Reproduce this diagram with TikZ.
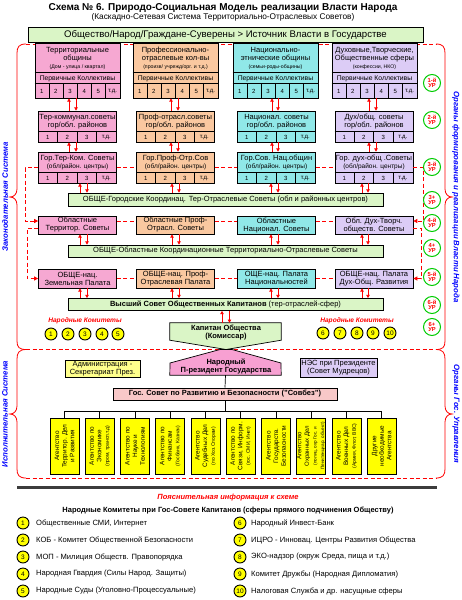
\documentclass[tikz,border=0pt]{standalone}
\usepackage{fontspec}
\setmainfont{Liberation Sans}
\usetikzlibrary{calc,arrows.meta}
\definecolor{cpink}{HTML}{F6A8D2}
\definecolor{corange}{HTML}{FAC8A0}
\definecolor{ccyan}{HTML}{90E8E8}
\definecolor{clav}{HTML}{DCCCF6}
\definecolor{cgreen}{HTML}{DAF5C6}
\definecolor{cyel}{HTML}{FFFF00}
\definecolor{cyellt}{HTML}{FFFF8C}
\definecolor{cgs}{HTML}{F8C8C8}
\definecolor{cpres}{HTML}{F7A0D2}
\definecolor{cred}{HTML}{FF0000}
\definecolor{cblue}{HTML}{0000FF}
\definecolor{clvl}{HTML}{00CC00}
\definecolor{csep}{HTML}{3C3C3C}
\newcommand{\FsT}{\fontsize{10}{11}\selectfont\bfseries}
\newcommand{\FsS}{\fontsize{8.3}{9}\selectfont}
\newcommand{\FsG}{\fontsize{9.6}{10}\selectfont}
\newcommand{\FsB}{\fontsize{7.5}{8}\selectfont}
\newcommand{\FsSm}{\fontsize{5.2}{6}\selectfont}
\newcommand{\FsC}{\fontsize{6.8}{7}\selectfont}
\newcommand{\FsD}{\fontsize{6}{6}\selectfont}
\newcommand{\FsAg}{\fontsize{6.4}{7.6}\selectfont}
\newcommand{\FsAgS}{\fontsize{5}{6}\selectfont}
\newcommand{\FsL}{\fontsize{7.6}{8}\selectfont}
\newcommand{\FsLv}{\fontsize{5.8}{5.6}\selectfont\bfseries}
\newcommand{\FsSide}{\fontsize{7.8}{8}\selectfont\bfseries\itshape}
\tikzset{
 bx/.style={draw=black, line width=0.7pt, inner sep=0pt, align=center},
 rarr/.style={draw=cred, line width=0.7pt, -{Triangle[length=3.2pt,width=3.4pt]}},
 rdash/.style={draw=cred, line width=0.8pt, dash pattern=on 4pt off 2.5pt},
 rdarr/.style={rdash, -{Triangle[length=4pt,width=4pt]}},
 lvl/.style={circle, draw=clvl, line width=1pt, fill=white, minimum size=17pt, inner sep=0pt, font=\FsLv, text=cred, align=center},
 knum/.style={circle, draw=black, line width=0.9pt, fill=cyel, minimum size=12pt, inner sep=0pt, font=\fontsize{6.5}{6.5}\selectfont},
 brc/.style={draw=cred, line width=0.8pt},
 side/.style={font=\FsSide, text=cblue, inner sep=0pt},
 agbox/.style={bx, fill=cyel, minimum width=29pt, minimum height=56pt},
 agtxt/.style={rotate=90, font=\FsAg, align=center, inner sep=0pt},
 kom/.style={font=\fontsize{6.6}{7}\selectfont\bfseries\itshape, text=cred, inner sep=0pt},
 leg/.style={anchor=west, font=\FsL, inner sep=0pt}
}
\newcommand{\TopBox}[4]{%
 \node[bx, fill=#3, minimum width=85pt, minimum height=55pt] (#1) at (#2,70.5) {};
 \node[align=center, font=\FsB, inner sep=0pt] (#1t) at (#2,58.5) {#4};
 \draw[line width=0.6pt] ($(#1.north west)+(0,30)$) -- ($(#1.north east)+(0,30)$);
 \draw[line width=0.6pt] ($(#1.north west)+(0,41)$) -- ($(#1.north east)+(0,41)$);
 \node[font=\FsC, inner sep=0pt] (#1p) at (#2,78.5) {Первичные Коллективы};
 \foreach \k in {1,...,5} {\draw[line width=0.6pt] ($(#1.north west)+({85/6*\k},41)$) -- ($(#1.south west)+({85/6*\k},0)$);}
 \foreach \k/\lab in {0/1,1/2,2/3,3/4,4/5,5/т.д.} {\node[font=\FsD, inner sep=0pt] (#1n\k) at ($(#1.south west)+({85/6*(\k+0.5)},-6.5)$) {\lab};}
}
\newcommand{\MidBox}[5]{%
 \node[bx, fill=#4, minimum width=78pt, minimum height=31pt] (#1) at (#2,{#3+15.5}) {};
 \node[align=center, font=\FsB, inner sep=0pt] (#1t) at (#2,{#3+10.5}) {#5};
 \draw[line width=0.6pt] ($(#1.north west)+(0,21)$) -- ($(#1.north east)+(0,21)$);
 \foreach \k in {1,2,3} {\draw[line width=0.6pt] ($(#1.north west)+({19.5*\k},21)$) -- ($(#1.south west)+({19.5*\k},0)$);}
 \foreach \k/\lab in {0/1,1/2,2/3,3/т.д.} {\node[font=\FsD, inner sep=0pt] (#1n\k) at ($(#1.south west)+({19.5*(\k+0.5)},-5)$) {\lab};}
}
\newcommand{\UD}[4]{%
 \draw[rarr] (#2.north -| #3,0) -- (#1.south -| #3,0);
 \draw[rarr] (#1.south -| #4,0) -- (#2.north -| #4,0);
}
\begin{document}
\begin{tikzpicture}[x=1pt,y=-1pt]
\useasboundingbox (0,0) rectangle (461,600);
\fill[white] (0,0) rectangle (461,600);
% title
\node[font=\FsT, inner sep=0pt] (title) at (223,8) {Схема № 6. Природо-Социальная Модель реализации Власти Народа};
\node[font=\FsS, inner sep=0pt] (subtitle) at (223,17.5) {(Каскадно-Сетевая Система Территориально-Отраслевых Советов)};
\node[bx, fill=cgreen, minimum width=395pt, minimum height=15pt, font=\FsG] (soc) at (225.5,34.5) {Общество/Народ/Граждане-Суверены > Источник Власти в Государстве};
% region borders
\draw[rdash] (26,44) -- (436,44);
\draw[rdash] (26,349.5) -- (436,349.5);
\draw[rdash] (26,478) -- (436,478);
\draw[brc] (26,44) .. controls (19,44) and (17,47) .. (17,53) -- (17,189) .. controls (17,194) and (14,197) .. (10,197) .. controls (14,197) and (17,200) .. (17,205) -- (17,341) .. controls (17,347) and (19,349.5) .. (26,349.5);
\draw[brc] (26,349.5) .. controls (19,349.5) and (17,353) .. (17,359) -- (17,406) .. controls (17,411) and (14,414) .. (10,414) .. controls (14,414) and (17,417) .. (17,422) -- (17,469) .. controls (17,475) and (19,478) .. (26,478);
\draw[brc] (436,44) .. controls (443,44) and (445,47) .. (445,53) -- (445,189) .. controls (445,194) and (448,197) .. (452,197) .. controls (448,197) and (445,200) .. (445,205) -- (445,341) .. controls (445,347) and (443,349.5) .. (436,349.5);
\draw[brc] (436,349.5) .. controls (443,349.5) and (445,353) .. (445,359) -- (445,406) .. controls (445,411) and (448,414) .. (452,414) .. controls (448,414) and (445,417) .. (445,422) -- (445,469) .. controls (445,475) and (443,478) .. (436,478);
\node[side, rotate=90] (legis) at (5,197) {Законодательная Система};
\node[side, rotate=90] (exec) at (5,414) {Исполнительная Система};
\node[side, rotate=-90] (orgf) at (456,197) {Органы формирования и реализации Власти Народа};
\node[side, rotate=-90] (orgg) at (456,414) {Органы Гос. Управления};
% row 1
\TopBox{t1}{77.5}{cpink}{Территориальные\\общины\\{\FsSm (Дом - улица / квартал)}}
\TopBox{t2}{175.5}{corange}{Профессионально-\\отраслевые кол-вы\\{\FsSm (произв/ учрежд/орг. и т.д.)}}
\TopBox{t3}{275.5}{ccyan}{Национально-\\этнические общины\\{\FsSm (семьи-роды-общины)}}
\TopBox{t4}{374.5}{clav}{Духовные,Творческие,\\Общественные сферы\\{\FsSm (конфессии, НКО)}}
% row 2
\MidBox{m1}{77.5}{111}{cpink}{Тер-коммунал.советы\\гор/обл. районов}
\MidBox{m2}{175.5}{111}{corange}{Проф-отрасл.советы\\гор/обл. районов}
\MidBox{m3}{276.5}{111}{ccyan}{Национал. советы\\гор/обл. районов}
\MidBox{m4}{374}{111}{clav}{Дух/общ. советы\\гор/обл. районов}
% row 3
\MidBox{g1}{77.5}{152}{cpink}{Гор.Тер-Ком. Советы\\{\fontsize{6.5}{7}\selectfont (обл/район. центры)}}
\MidBox{g2}{175.5}{152}{corange}{Гор.Проф-Отр.Сов\\{\fontsize{6.5}{7}\selectfont (обл/район. центры)}}
\MidBox{g3}{276.5}{152}{ccyan}{Гор.Сов. Нац.общин\\{\fontsize{6.5}{7}\selectfont (обл/район. центры)}}
\MidBox{g4}{374}{152}{clav}{Гор. дух-общ .Советы\\{\fontsize{6.5}{7}\selectfont (обл/район. центры)}}
% bars
\node[bx, fill=cgreen, minimum width=315pt, minimum height=13pt, font=\FsB] (b1) at (225.5,199.5) {ОБЩЕ-Городские Координац. Тер-Отраслевые Советы (обл и районных центров)};
\node[bx, fill=cgreen, minimum width=315pt, minimum height=12pt, font=\FsB] (b2) at (225.5,251) {ОБЩЕ-Областные Координационные Территориально-Отраслевые Советы};
\node[bx, fill=cgreen, minimum width=315pt, minimum height=12pt, font=\FsB] (b3) at (225.5,304.5) {\textbf{Высший Совет Общественных Капитанов} (тер-отраслей-сфер)};
% row 4
\node[bx, fill=cpink, minimum width=78pt, minimum height=18pt, font=\FsB] (o1) at (77.5,225) {Областные\\Территор. Советы};
\node[bx, fill=corange, minimum width=78pt, minimum height=18pt, font=\FsB] (o2) at (175.5,225) {Областные Проф-\\Отрасл. Советы};
\node[bx, fill=ccyan, minimum width=78pt, minimum height=18pt, font=\FsB] (o3) at (276.5,225) {Областные\\Национал. Советы};
\node[bx, fill=clav, minimum width=78pt, minimum height=18pt, font=\FsB] (o4) at (374,225) {Обл. Дух-Творч.\\обществ. Советы};
% row 5
\node[bx, fill=cpink, minimum width=78pt, minimum height=19pt, font=\FsB] (p1) at (77.5,278.5) {ОБЩЕ-нац.\\Земельная Палата};
\node[bx, fill=corange, minimum width=78pt, minimum height=19pt, font=\FsB] (p2) at (175.5,278.5) {ОБЩЕ-нац. Проф-\\Отраслевая Палата};
\node[bx, fill=ccyan, minimum width=78pt, minimum height=19pt, font=\FsB] (p3) at (276.5,278.5) {ОЩЕ-нац. Палата\\Национальностей};
\node[bx, fill=clav, minimum width=78pt, minimum height=19pt, font=\FsB] (p4) at (374,278.5) {ОБЩЕ-нац. Палата\\Дух-Общ. Развития};
% vertical arrow pairs
\UD{t1}{m1}{69}{76}\UD{t2}{m2}{171}{178}\UD{t3}{m3}{272}{278}\UD{t4}{m4}{369}{376}
\UD{m1}{g1}{69}{76}\UD{m2}{g2}{171}{178}\UD{m3}{g3}{272}{278}\UD{m4}{g4}{369}{376}
\UD{g1}{b1}{80}{87}\UD{g2}{b1}{172}{179}\UD{g3}{b1}{271}{278}\UD{g4}{b1}{362}{368}
\UD{o1}{b2}{80}{87}\UD{o2}{b2}{172}{179}\UD{o3}{b2}{271}{278}\UD{o4}{b2}{362}{368}
\UD{p1}{b3}{80}{87}\UD{p2}{b3}{172}{179}\UD{p3}{b3}{271}{278}\UD{p4}{b3}{362}{368}
% horizontal dashed links
\draw[rdash] (g1.east) -- (g2.west);
\draw[rdash] (g2.east) -- (g3.west);
\draw[rdash] (g3.east) -- (g4.west);
\draw[rdash] (o1.east |- 0,221) -- (o2.west |- 0,221);
\draw[rdash] (o2.east |- 0,221) -- (o3.west |- 0,221);
\draw[rdash] (o3.east |- 0,221) -- (o4.west |- 0,221);
\draw[rdash] (p1.east) -- (p2.west);
\draw[rdash] (p2.east) -- (p3.west);
\draw[rdash] (p3.east) -- (p4.west);
% side chains
\draw[rdarr] (g1.west) -- ++(-13,0) |- (o1.west |- 0,221);
\draw[rdarr] (o1.west |- 0,228) -- ++(-11,0) |- (p1.west);
\draw[rdarr] (g4.east) -- ++(10,0) |- (o4.east |- 0,221);
\draw[rdarr] (o4.east |- 0,228) -- ++(8,0) |- (p4.east);
% levels
\foreach \nm/\yy/\lab in {l1/83/1-й, l2/120/2-й, l3/167/3-й, l3p/200/3+, l4/223/4-й, l4p/248/4+, l5/277/5-й, l6/305/6-й, l6p/327/6+} {\node[lvl] (\nm) at (432,\yy) {\lab\\УР};}
% captain
\node[inner sep=0pt, minimum width=111pt, minimum height=17pt] (kap) at (225.5,331.5) {};
\draw[fill=cgreen, line width=0.7pt] (kap.north west) -- (kap.north east) -- (kap.south east) -- (226,349.5) -- (kap.south west) -- cycle;
\node[font=\FsB\bfseries, align=center, inner sep=0pt] (kapt) at (226,333) {Капитан Общества\\(Комиссар)};
\draw[rarr] (kap.north -| 222,0) -- (b3.south -| 222,0);
\draw[rarr] (b3.south -| 229.5,0) -- (kap.north -| 229.5,0);
% president
\node[inner sep=0pt, minimum width=111pt, minimum height=26pt] (pres) at (225.5,362) {};
\draw[fill=cpres, line width=0.7pt] (220,349.5) -- (232,349.5) -- (281,363) -- (pres.south east) -- (pres.south west) -- (170,363) -- cycle;
\node[font=\FsB\bfseries, align=center, inner sep=0pt] (prest) at (226,366.5) {Народный\\П-резидент Государства};
\node[bx, fill=cyellt, minimum width=75pt, minimum height=17pt, font=\FsB] (adm) at (102.5,368.5) {Администрация -\\Секретариат През.};
\node[bx, fill=clav, minimum width=77pt, minimum height=19pt, font=\FsB] (nes) at (338.5,367.5) {НЭС при Президенте\\(Совет Мудрецов)};
% committees
\node[kom] (komL) at (85,321) {Народные Комитеты};
\node[kom] (komR) at (357,321) {Народные Комитеты};
\foreach \n/\xx in {1/51,2/68,3/85,4/102,5/118} {\node[knum] (k\n) at (\xx,334) {\n};}
\foreach \n/\xx in {6/323,7/340,8/357,9/373,10/390} {\node[knum] (k\n) at (\xx,333) {\n};}
% gos sovet
\node[bx, fill=cgs, line width=1pt, minimum width=224pt, minimum height=12pt, font=\FsB\bfseries] (gs) at (225,394) {Гос. Совет по Развитию и Безопасности ("Совбез")};
\draw[line width=0.7pt] (pres.south) -- (gs.north);
\coordinate (bus) at (225,411);
\draw[line width=0.7pt] (gs.south) -- (bus);
% agencies
\foreach \i/\xx/\txt in {
 1/64.5/{Агентство\\Территор. Дел\\и Развития},
 2/99.7/{Агентство по\\Экономике\\{\FsAgS (пром, трансп.т.д)}},
 3/135/{Агентство по\\Науке и\\Технологиям},
 4/170.2/{Агентство по\\Финансам\\{\FsAgS (Госбанк, Казнач)}},
 5/205.5/{Агентство\\Судебных Дел\\{\FsAgS (по Хоз.Спорам)}},
 6/240.7/{Агентство по\\Связи, Информ.\\{\FsAgS (гос. СМИ, Инет)}},
 7/276/{Агентство\\Государств.\\Безопасности},
 8/311.2/{{\fontsize{6}{6.6}\selectfont Агентство}\\{\fontsize{6}{6.6}\selectfont Охранных Дел}\\{\fontsize{4.6}{5.6}\selectfont (полиц, охр Гос. и}\\{\fontsize{4.6}{5.6}\selectfont Пенитенциар. объект)}},
 9/346.5/{Агентство\\Военных Дел\\{\FsAgS (Армия, Флот, ВВС)}},
 10/381.7/{Другие\\необходимые\\Агентства}} {
 \node[agbox] (ag\i) at (\xx,446) {};
 \node[agtxt] (ag\i t) at (ag\i.center) {\txt};
}
\draw[line width=0.7pt] (ag1.north |- bus) -- (ag10.north |- bus);
\foreach \i in {1,...,10} {\draw[line width=0.7pt] (ag\i.north |- bus) -- (ag\i.north);}
% separator and legend
\draw[csep, line width=3pt] (17,487) -- (437,487);
\node[font=\FsB\bfseries\itshape, text=cred, inner sep=0pt] (expl) at (228,498) {Пояснительная информация к схеме};
\node[font=\FsB\bfseries, inner sep=0pt] (lhead) at (228,511) {Народные Комитеты при Гос-Совете Капитанов (сферы прямого подчинения Обществу)};
\foreach \n/\yy/\txt in {1/523/{Общественные СМИ, Интернет}, 2/540/{КОБ - Комитет Общественной Безопасности}, 3/557/{МОП - Милиция Обществ. Правопорядка}, 4/574/{Народная Гвардия (Силы Народ. Защиты)}, 5/591/{Народные Суды (Уголовно-Процессуальные)}} {
 \node[knum] (lc\n) at (23,\yy) {\n};
 \node[leg] (lt\n) at (36,\yy) {\txt};
}
\foreach \n/\yy/\txt in {6/523/{Народный Инвест-Банк}, 7/540/{ИЦРО - Инновац. Центры Развития Общества}, 8/557/{ЭКО-надзор (окруж Среда, пища и т.д.)}, 9/574/{Комитет Дружбы (Народная Дипломатия)}, 10/591/{Налоговая Служба и др. насущные сферы}} {
 \node[knum] (lc\n) at (240,\yy) {\n};
 \node[leg] (lt\n) at (251,\yy) {\txt};
}
\end{tikzpicture}
\end{document}
